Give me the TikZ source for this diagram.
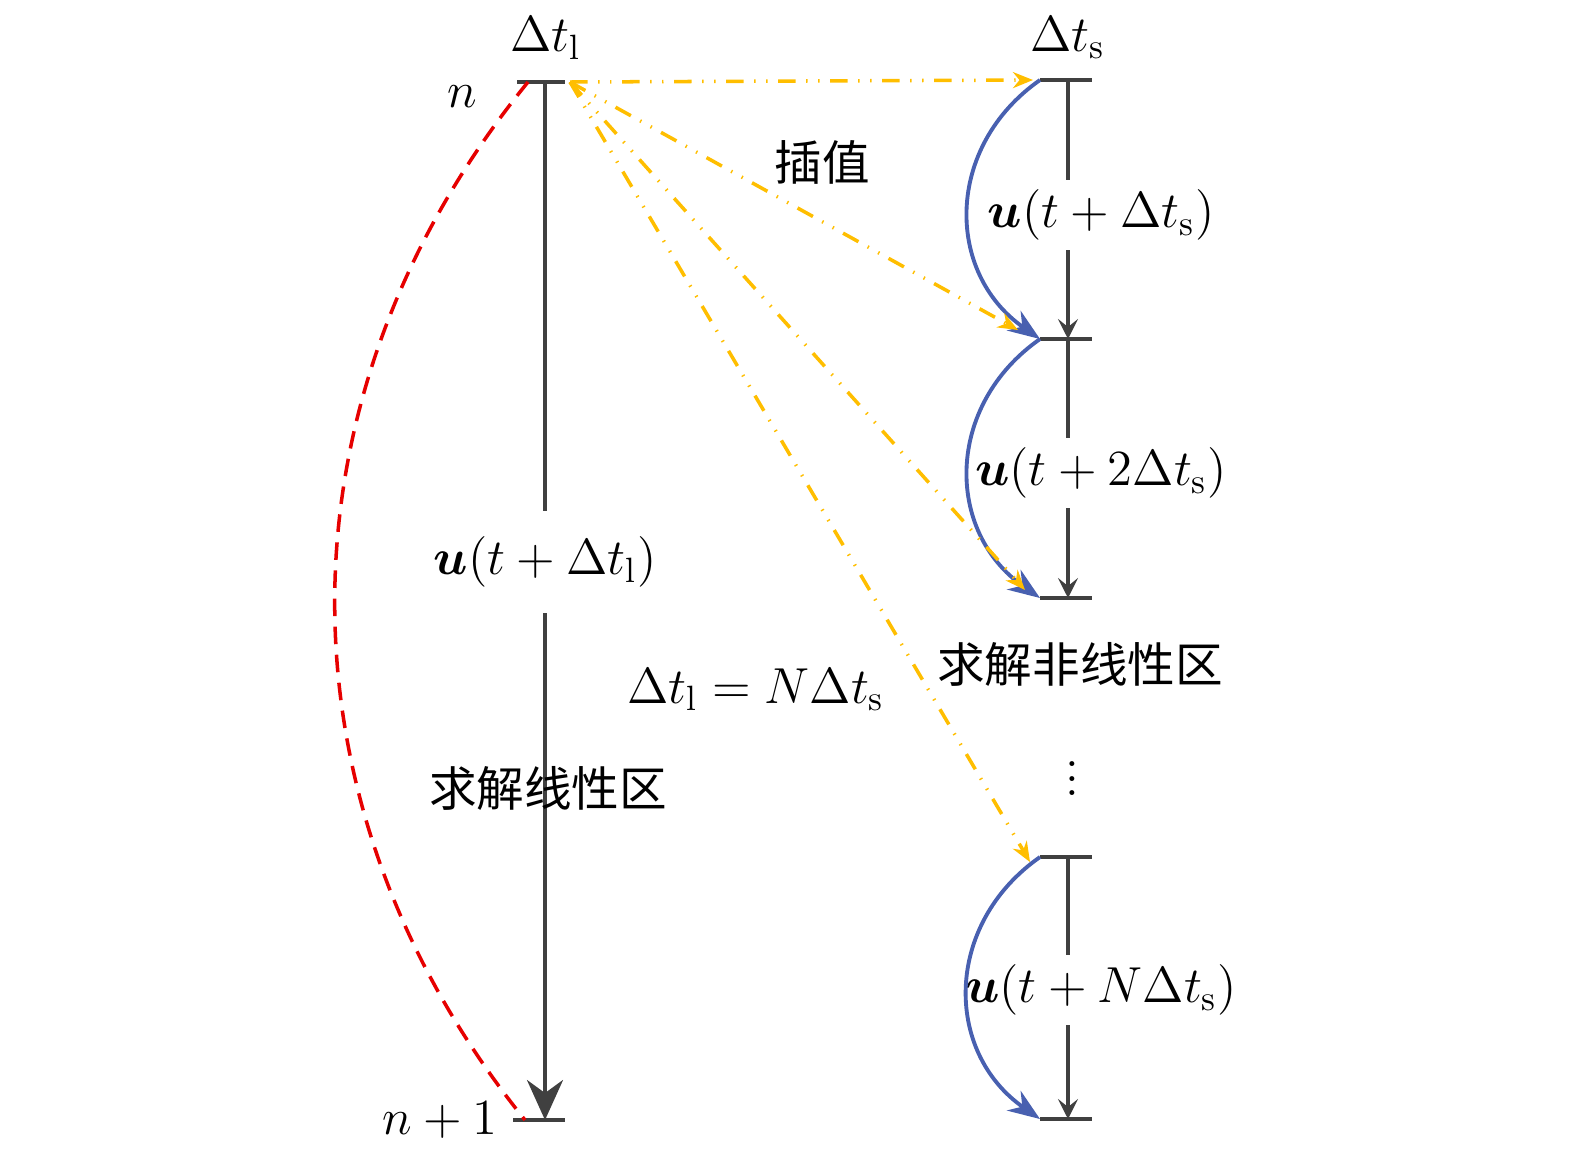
\documentclass[tikz,border=0pt]{standalone}
\usepackage{amsmath}
\usepackage{amssymb}
\usepackage{fontspec}
\newfontfamily\cjk[Scale=0.94]{Noto Sans CJK SC}
\usetikzlibrary{arrows.meta}
\definecolor{axisgray}{RGB}{64,64,64}
\definecolor{arcblue}{RGB}{72,96,176}
\definecolor{interpyellow}{RGB}{255,190,0}
\definecolor{linred}{RGB}{230,0,0}

\begin{document}
\begin{tikzpicture}[x=0.1mm, y=-0.1mm, font=\Large,
		tick/.style={axisgray, line width=0.9pt},
		stepline/.style={axisgray, line width=0.9pt, -{Stealth[length=2mm, width=2mm, inset=0.8mm]}},
		ulabel/.style={fill=white, inner xsep=0pt, inner ysep=1mm},
		substep/.style={arcblue, line width=1.1pt, -{Stealth[length=3.2mm, width=2.4mm]}},
		interp/.style={interpyellow, line width=1pt, dash pattern=on 5pt off 3pt on 0.4pt off 3pt on 0.4pt off 3pt, -{Stealth[length=2mm, width=1.6mm]}}]
			\useasboundingbox (0, 0) rectangle (1575, 1161);
			% large step
			\coordinate (ln) at (545, 82);
			\coordinate (ln1) at (545, 1120);
			\draw[tick] (517, 82) -- (565, 82);
			\draw[tick] (513, 1120) -- (565, 1120);
			\draw[axisgray, line width=1.1pt, -{Stealth[length=4mm, width=3.6mm, inset=1.3mm]}] (ln) -- (ln1);
			\node[ulabel, inner ysep=2.6mm] (ul) at (545, 562) {$\boldsymbol{u}(t+\Delta t_\mathrm{l})$};
			% small steps
			\foreach \y [count=\k] in {80, 339, 598, 857, 1119}
			{
				\coordinate (r\k) at (1068, \y);
				\coordinate (rl\k) at (1040, \y);
				\draw[tick] (1040, \y) -- (1092, \y);
			}
			\foreach \a/\b in {1/2, 2/3, 4/5}
				\draw[stepline] (r\a) -- (r\b);
			\node[ulabel] (us1) at (1101, 215) {$\boldsymbol{u}(t+\Delta t_\mathrm{s})$};
			\node[ulabel] (us2) at (1101, 473) {$\boldsymbol{u}(t+2\Delta t_\mathrm{s})$};
			\node[ulabel] (usn) at (1101, 990) {$\boldsymbol{u}(t+N\Delta t_\mathrm{s})$};
			\foreach \a/\b in {1/2, 2/3, 4/5}
				\draw[substep] (rl\a) to[bend right=55, looseness=1.15] (rl\b);
			% interpolation
			\coordinate (ys) at (570, 82);
			\coordinate (ye1) at (1033, 80);
			\coordinate (ye2) at (1018, 330);
			\coordinate (ye3) at (1025, 590);
			\coordinate (ye4) at (1030, 862);
			\foreach \k in {1, ..., 4}
				\draw[interp] (ys) -- (ye\k);
			% linear solve
			\coordinate (rs) at (528, 82);
			\coordinate (re) at (525, 1120);
			\draw[linred, line width=1pt, dash pattern=on 5pt off 3pt] (rs) to[bend right=39] (re);
			% texts
			\node (dtl) at (546, 38) {$\Delta t_\mathrm{l}$};
			\node (dts) at (1068, 38) {$\Delta t_\mathrm{s}$};
			\node (nlab) at (462, 97) {$n$};
			\node (n1lab) at (440, 1120) {$n+1$};
			\node (interplab) at (822, 162) {\cjk 插值};
			\node (ratio) at (756, 690) {$\Delta t_\mathrm{l} = N\Delta t_\mathrm{s}$};
			\node (linlab) at (548, 788) {\cjk 求解线性区};
			\node (nonlinlab) at (1080, 664) {\cjk 求解非线性区};
			\node (dots) at (1072, 768) {$\vdots$};
		\end{tikzpicture}
\end{document}
